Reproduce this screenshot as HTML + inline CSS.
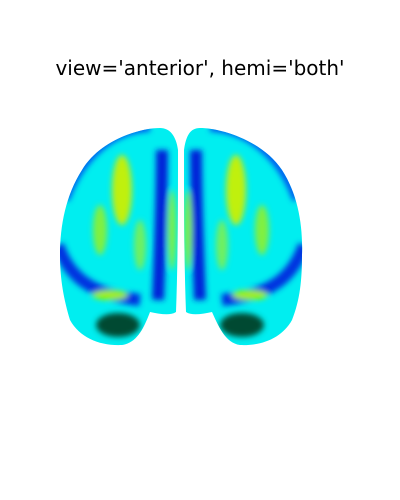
<!DOCTYPE html>
<html><head><meta charset="utf-8"><style>
html,body{margin:0;padding:0;background:#fff;}
#c{position:relative;width:400px;height:500px;overflow:hidden;}
.t{position:absolute;left:0;top:56px;width:400px;text-align:center;font:20px "DejaVu Sans","Liberation Sans",sans-serif;color:#000;}
</style></head><body>
<div id="c">
<div class="t">view='anterior', hemi='both'</div>
<svg width="400" height="500" style="position:absolute;left:0;top:0">
<defs>
<filter id="b" x="-20%" y="-20%" width="140%" height="140%"><feGaussianBlur stdDeviation="3"/></filter>
<clipPath id="lc"><path d="M160,128 C140,128 100,140 82,170 C66,195 60,225 60,255 C60,280 64,300 70,320 C80,338 100,346 122,345 C138,343 145,325 150,312 C160,314 170,316 176,312 C178,260 178,200 178,150 C176,136 170,128 160,128Z"/></clipPath>
<clipPath id="rc"><path d="M200,128 C220,128 262,140 282,170 C298,195 303,225 302,255 C302,280 300,300 292,320 C282,338 262,346 240,345 C225,343 218,325 212,312 C202,314 192,316 186,312 C184,260 184,200 184,150 C186,136 190,128 200,128Z"/></clipPath>
</defs>
<g clip-path="url(#lc)">
<rect x="50" y="120" width="140" height="240" fill="#00eef0"/>
<g filter="url(#b)">
<path d="M58,245 C70,280 95,295 140,300" stroke="#0030e0" stroke-width="12" fill="none"/>
<ellipse cx="118" cy="325" rx="22" ry="12" fill="#004a30"/>
<path d="M162,150 C162,200 160,250 158,300" stroke="#0020d8" stroke-width="12" fill="none"/>
<path d="M150,128 C110,130 80,160 66,200" stroke="#0050f0" stroke-width="7" fill="none"/>
<ellipse cx="122" cy="190" rx="10" ry="35" fill="#c0f010"/>
<ellipse cx="100" cy="230" rx="7" ry="25" fill="#80f040"/>
<ellipse cx="140" cy="245" rx="6" ry="25" fill="#70f060"/>
<ellipse cx="110" cy="295" rx="18" ry="5" fill="#a0f000"/>
<ellipse cx="172" cy="230" rx="4" ry="40" fill="#80f040"/>
</g>
</g>
<g clip-path="url(#rc)">
<rect x="180" y="120" width="140" height="240" fill="#00eef0"/>
<g filter="url(#b)">
<path d="M304,245 C292,280 268,295 222,300" stroke="#0030e0" stroke-width="12" fill="none"/>
<ellipse cx="242" cy="325" rx="22" ry="12" fill="#004a30"/>
<path d="M196,150 C196,200 198,250 200,300" stroke="#0020d8" stroke-width="12" fill="none"/>
<path d="M210,128 C252,130 282,160 296,200" stroke="#0050f0" stroke-width="7" fill="none"/>
<ellipse cx="236" cy="190" rx="10" ry="35" fill="#c0f010"/>
<ellipse cx="262" cy="230" rx="7" ry="25" fill="#80f040"/>
<ellipse cx="222" cy="245" rx="6" ry="25" fill="#70f060"/>
<ellipse cx="250" cy="295" rx="18" ry="5" fill="#a0f000"/>
<ellipse cx="188" cy="230" rx="4" ry="40" fill="#80f040"/>
</g>
</g>
</svg>
</div>
</body></html>
